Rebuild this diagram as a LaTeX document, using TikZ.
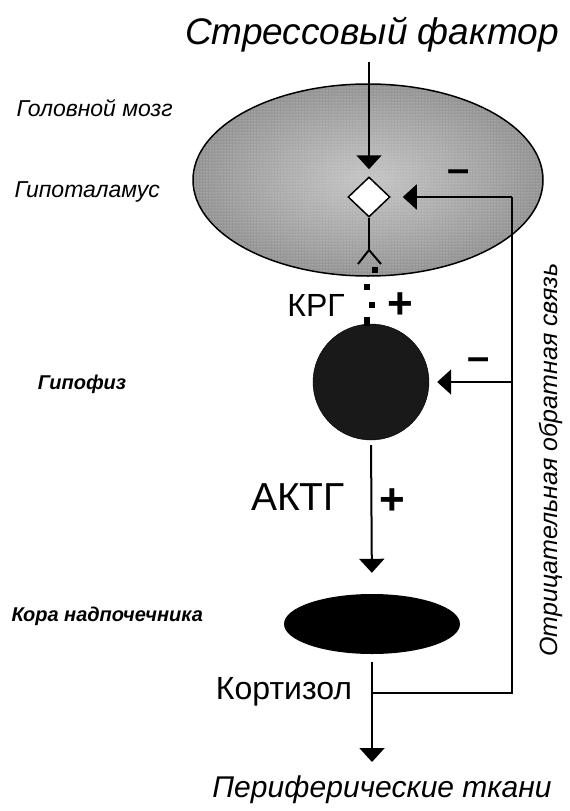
\documentclass[tikz,border=0pt]{standalone}
\usepackage{fontspec}
\setmainfont{Liberation Sans}
\usetikzlibrary{arrows.meta,shapes.geometric,patterns}

\tikzset{
  lbl/.style={anchor=west, font=\itshape\fontsize{23}{25}\selectfont},
  lblb/.style={font=\bfseries\itshape\fontsize{20}{22}\selectfont},
  hormon/.style={font=\fontsize{32}{34}\selectfont},
  sgn/.style={font=\bfseries\fontsize{44}{44}\selectfont, inner sep=0pt},
  ttl/.style={font=\itshape\fontsize{37}{39}\selectfont},
  arr/.style={-{Triangle[width=25pt,length=14pt]}, line width=2pt},
  ln/.style={line width=2pt},
  sq/.style={fill=black, minimum size=6pt, inner sep=0pt}
}

\begin{document}
\begin{tikzpicture}[x=1pt,y=-1pt]
		\useasboundingbox (0,0) rectangle (570,811);
		
		% titles
		\node (stress) at (372,35) [ttl] {Стрессовый фактор};
		\node (perif) at (382,790) [ttl, font=\itshape\fontsize{30}{32}\selectfont] {Периферические ткани};
		
		% labels on the left
		\node (lbrain) at (13,108) [lbl] {Головной мозг};
		\node (lhypo) at (11,192) [lbl] {Гипоталамус};
		\node (lpit) at (82,384) [lblb] {Гипофиз};
		\node (ladr) at (8,616) [lblb, anchor=west] {Кора надпочечника};
		
		% organs
		\node (brain) at (368,180) [ellipse, draw, line width=1.5pt, inner color=gray!45, outer color=gray!85, minimum width=350pt, minimum height=192pt, inner sep=0pt] {};
		\fill[pattern=dots, pattern color=white!75!gray] (brain.center) ellipse [x radius=174pt, y radius=95pt];
		\node (hypo) at (369,197) [diamond, draw, fill=white, line width=1.5pt, minimum width=42pt, minimum height=40pt, inner sep=0pt] {};
		\node (pit) at (371,382) [circle, draw, fill=black!90, minimum size=116pt, inner sep=0pt] {};
		\node (adr) at (372,624) [ellipse, fill=black, minimum width=176pt, minimum height=60pt, inner sep=0pt] {};
		
		% neuron ending and dotted path
		\coordinate (fork) at (369,250);
		\draw[ln] (hypo.south) -- (fork);
		\draw[ln] (fork) -- ++(-11,14);
		\draw[ln] (fork) -- ++(12,14);
		\node (s1) at (375,270) [sq] {};
		\node (s2) at (367,287) [sq] {};
		\node (s3) at (372,305) [sq] {};
		\node (s4) at (367,321) [sq, minimum height=9pt] {};
		
		% hormones
		\node (krg) at (316,305) [hormon] {КРГ};
		\node (p1) at (400,306) [sgn] {+};
		\node (aktg) at (298,497) [hormon, font=\fontsize{39}{41}\selectfont] {АКТГ};
		\node (p2) at (392,502) [sgn] {+};
		\node (cort) at (284,692) [hormon] {Кортизол};
		
		% main arrows
		\coordinate (in) at (369,62);
		\coordinate (tip) at (372,762);
		\coordinate (join) at (372,693);
		\draw[arr, shorten >=7pt] (in) -- (hypo.north);
		\draw[arr, shorten <=5pt, shorten >=21pt] (pit.south) -- (adr.north);
		\draw[arr, shorten <=8pt] (adr.south) -- (tip);
		
		% negative feedback
		\coordinate (fbbot) at (512,693);
		\coordinate (fbmid) at (512,382);
		\coordinate (fbtop) at (512,197);
		\draw[ln] (join) -- (fbbot) -- (fbtop);
		\draw[arr, shorten >=12pt] (fbtop) -- (hypo.east);
		\draw[arr, shorten >=8pt] (fbmid) -- (pit.east);
		\node (m1) at (459,176) [sgn, font=\bfseries\fontsize{40}{40}\selectfont] {–};
		\node (m2) at (479,364) [sgn, font=\bfseries\fontsize{40}{40}\selectfont] {–};
		\node (neg) at (551,460) [rotate=90, font=\itshape\fontsize{25}{27}\selectfont] {Отрицательная обратная связь};
		
	\end{tikzpicture}
\end{document}
